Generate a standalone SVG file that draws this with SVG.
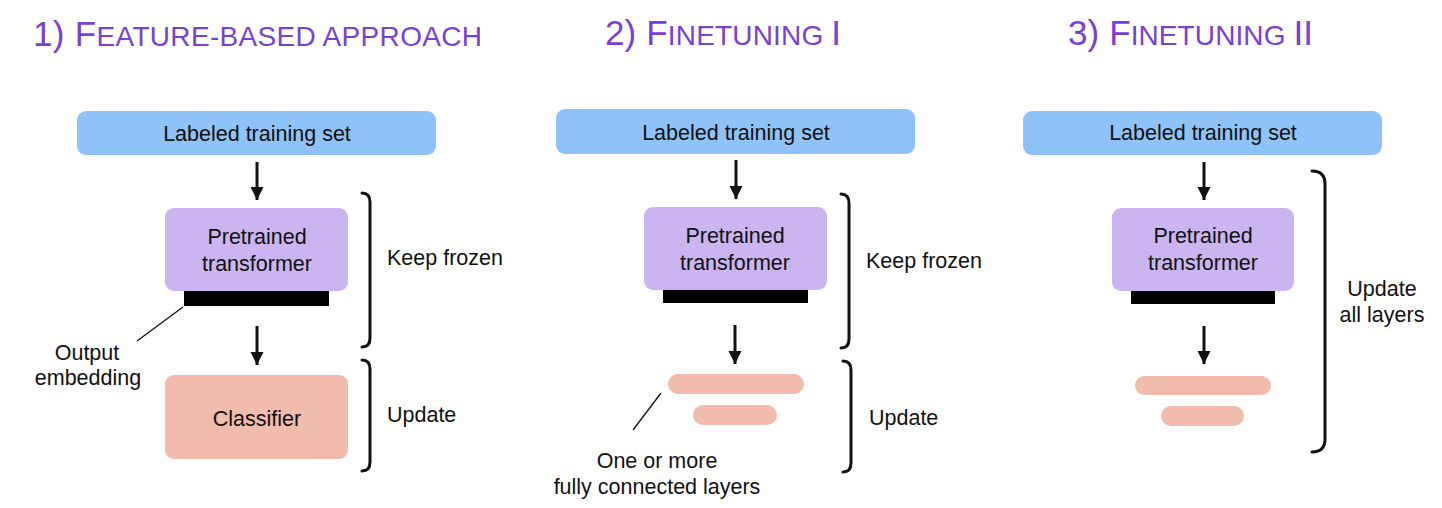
<svg xmlns="http://www.w3.org/2000/svg" width="1442" height="508" viewBox="0 0 1442 508">
<defs>
<marker id="ah" viewBox="0 0 10 10" refX="10" refY="5" markerWidth="4.4" markerHeight="4.4" markerUnits="strokeWidth" orient="auto">
<path d="M0,0 L10,5 L0,10 z" fill="#111"/>
</marker>
</defs>
<style>
.title{font-family:"Liberation Sans",Arial,sans-serif;fill:#7940D4;font-size:35px}
.sc{font-size:28px}
.t{font-family:"Liberation Sans",Arial,sans-serif;fill:#111;font-size:21.5px}
.mid{text-anchor:middle}
.blue{fill:#8FC3F7}
.purple{fill:#CBB5F1}
.salmon{fill:#F1BBAD}
.bar{fill:#000}
.arrow{stroke:#111;stroke-width:3;fill:none;marker-end:url(#ah)}
.br{stroke:#111;stroke-width:3;fill:none;stroke-linecap:round}
.lead{stroke:#111;stroke-width:1.3;fill:none}
</style>
<rect width="1442" height="508" fill="#fff"/>

<g id="titles">
<text class="title" x="33" y="46" textLength="449" lengthAdjust="spacing">1) F<tspan class="sc">EATURE-BASED APPROACH</tspan></text>
<text class="title" x="605" y="45" textLength="236" lengthAdjust="spacing">2) F<tspan class="sc">INETUNING </tspan>I</text>
<text class="title" x="1068" y="45" textLength="245" lengthAdjust="spacing">3) F<tspan class="sc">INETUNING </tspan>II</text>
</g>

<!-- Panel 1 -->
<g id="p1-data">
<rect class="blue" x="77" y="111" width="359" height="44" rx="9"/>
<text class="t mid" x="257" y="141">Labeled training set</text>
</g>
<g id="p1-transformer">
<rect class="purple" x="165" y="208" width="183" height="83" rx="9"/>
<text class="t mid" x="257" y="244">Pretrained</text>
<text class="t mid" x="257" y="271">transformer</text>
<rect class="bar" x="184" y="291" width="145" height="15"/>
</g>
<g id="p1-classifier">
<rect class="salmon" x="165" y="375" width="183" height="84" rx="9"/>
<text class="t mid" x="257" y="426">Classifier</text>
</g>
<g id="p1-labels">
<text class="t mid" x="87" y="360">Output</text>
<text class="t mid" x="88" y="385">embedding</text>
<text class="t" x="387" y="265">Keep frozen</text>
<text class="t" x="387" y="422">Update</text>
</g>

<!-- Panel 2 -->
<g id="p2-data">
<rect class="blue" x="556" y="109" width="359" height="45" rx="9"/>
<text class="t mid" x="736" y="140">Labeled training set</text>
</g>
<g id="p2-transformer">
<rect class="purple" x="644" y="207" width="183" height="83" rx="9"/>
<text class="t mid" x="735" y="243">Pretrained</text>
<text class="t mid" x="735" y="270">transformer</text>
<rect class="bar" x="663" y="290" width="145" height="13"/>
</g>
<g id="p2-fc">
<rect class="salmon" x="668" y="374" width="136" height="20" rx="10"/>
<rect class="salmon" x="693" y="405" width="84" height="20" rx="10"/>
</g>
<g id="p2-labels">
<text class="t mid" x="657" y="468">One or more</text>
<text class="t mid" x="657" y="494">fully connected layers</text>
<text class="t" x="866" y="268">Keep frozen</text>
<text class="t" x="869" y="425">Update</text>
</g>

<!-- Panel 3 -->
<g id="p3-data">
<rect class="blue" x="1023" y="111" width="359" height="44" rx="9"/>
<text class="t mid" x="1203" y="140">Labeled training set</text>
</g>
<g id="p3-transformer">
<rect class="purple" x="1112" y="208" width="182" height="83" rx="9"/>
<text class="t mid" x="1203" y="243">Pretrained</text>
<text class="t mid" x="1203" y="270">transformer</text>
<rect class="bar" x="1131" y="291" width="144" height="13"/>
</g>
<g id="p3-fc">
<rect class="salmon" x="1135" y="376" width="136" height="19" rx="9.5"/>
<rect class="salmon" x="1161" y="406" width="83" height="20" rx="10"/>
</g>
<g id="p3-labels">
<text class="t mid" x="1382" y="296">Update</text>
<text class="t mid" x="1382" y="322">all layers</text>
</g>

<g id="connectors">
<line class="arrow" x1="257" y1="162" x2="257" y2="200"/>
<line class="arrow" x1="257" y1="326" x2="257" y2="365"/>
<line class="arrow" x1="736" y1="160" x2="736" y2="199"/>
<line class="arrow" x1="735" y1="325" x2="735" y2="364"/>
<line class="arrow" x1="1204" y1="162" x2="1204" y2="200"/>
<line class="arrow" x1="1204" y1="326" x2="1204" y2="364"/>
<line class="lead" x1="183" y1="307" x2="137" y2="341"/>
<line class="lead" x1="661" y1="393" x2="633" y2="430"/>
<path class="br" d="M362,193 Q370,193 370,202 L370,338 Q370,347 362,347"/>
<path class="br" d="M362,360 Q370,360 370,369 L370,462 Q370,471 362,471"/>
<path class="br" d="M841,194 Q849,194 849,203 L849,339 Q849,348 841,348"/>
<path class="br" d="M843,361 Q851,361 851,370 L851,463 Q851,472 843,472"/>
<path class="br" d="M1312,171 Q1325,171 1325,184 L1325,439 Q1325,452 1312,452"/>
</g>
</svg>
